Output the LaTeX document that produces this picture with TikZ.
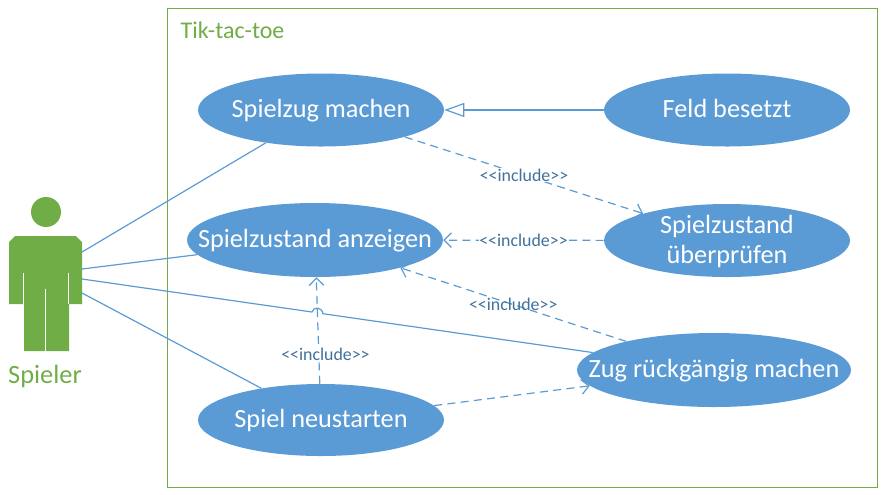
\documentclass[tikz,border=0pt]{standalone}
\usepackage{fontspec}
\setmainfont{Carlito}
\newfontfamily\inclfont{Carlito}
\usetikzlibrary{shapes.geometric,arrows.meta}
\definecolor{usecaseblue}{HTML}{5B9BD5}
\definecolor{labelblue}{HTML}{41719C}
\definecolor{actorgreen}{HTML}{70AD47}
\newcommand{\uctext}[1]{\makebox[0pt]{\smash{\raisebox{-.33em}{\begin{tabular}{@{}c@{}}#1\end{tabular}}}}}
\tikzset{
	usecase/.style={ellipse, fill=usecaseblue, text=white, inner sep=0pt, font=\fontsize{19.7}{22.5}\selectfont},
	assoc/.style={draw=usecaseblue, line width=.9pt},
	general/.style={assoc, -{Triangle[open, length=15pt, width=10.5pt]}},
	incl/.style={assoc, dash pattern=on 6pt off 4pt, -{Straight Barb[length=5.5pt, width=11pt]}},
	incllabel/.style={text=labelblue, font=\inclfont\fontsize{13.4}{15}\selectfont, inner sep=.5pt},
}
\begin{document}
\begin{tikzpicture}[x=.75pt, y=-.75pt]
	\useasboundingbox (0,0) rectangle (881,494);
	\draw[actorgreen, line width=.75pt] (167,8) rectangle (877,487);
	\node[text=actorgreen, anchor=west, font=\fontsize{18}{21}\selectfont] (system) at (176,30) {Tik-tac-toe};
	% actor
	\fill[actorgreen] (46,212) circle (15);
	\fill[actorgreen] (15,236) -- (76,236) -- (82,242) -- (82,304) -- (69,304) -- (69,351) -- (24,351) -- (24,304) -- (9,304) -- (9,242) -- cycle;
	\draw[white, line width=.9pt] (23.5,273) -- (23.5,304) (68.5,273) -- (68.5,304) (45.5,289) -- (45.5,351);
	\node[text=actorgreen, font=\fontsize{19.8}{24}\selectfont] (spieler) at (45,376) {Spieler};
	\coordinate (a1) at (82,252);
	\coordinate (a2) at (82,269);
	\coordinate (a3) at (82,279);
	\coordinate (a4) at (82,293);
	% use cases
	\node[usecase, minimum width=184.5pt, minimum height=54.75pt] (machen) at (321,110) {\uctext{Spielzug machen}};
	\node[usecase, minimum width=184.5pt, minimum height=54.75pt] (feld) at (727,110) {\uctext{Feld besetzt}};
	\node[usecase, minimum width=192pt, minimum height=55.5pt] (anzeigen) at (315,240) {\uctext{Spielzustand anzeigen}};
	\node[usecase, minimum width=184.5pt, minimum height=54.75pt] (pruefen) at (727,240.5) {\uctext{Spielzustand\\überprüfen}};
	\node[usecase, minimum width=205.5pt, minimum height=55.5pt] (zug) at (714,370) {\uctext{Zug rückgängig machen}};
	\node[usecase, minimum width=184.5pt, minimum height=54pt] (neustart) at (321,420) {\uctext{Spiel neustarten}};
	% connectors
	\path[assoc]
	(a1) edge (machen)
	(a2) edge (anzeigen)
	(a4) edge (neustart);
	\coordinate (j1) at (312,312);
	\coordinate (j2) at (323,313.7);
	\draw[assoc] (a3) -- (j1) .. controls (313,306.5) and (322,306.5) .. (j2) -- (zug);
	\path[general] (feld) edge (machen);
	\path[incl]
	(machen) edge node[incllabel, fill=white] {<<include>>} (pruefen)
	(pruefen) edge node[incllabel, fill=white] {<<include>>} (anzeigen)
	(zug) edge node[incllabel] {<<include>>} (anzeigen)
	(neustart) edge (zug)
	(neustart) edge node[incllabel, fill=white, pos=.28, xshift=5pt] {<<include>>} (anzeigen);
\end{tikzpicture}
\end{document}
